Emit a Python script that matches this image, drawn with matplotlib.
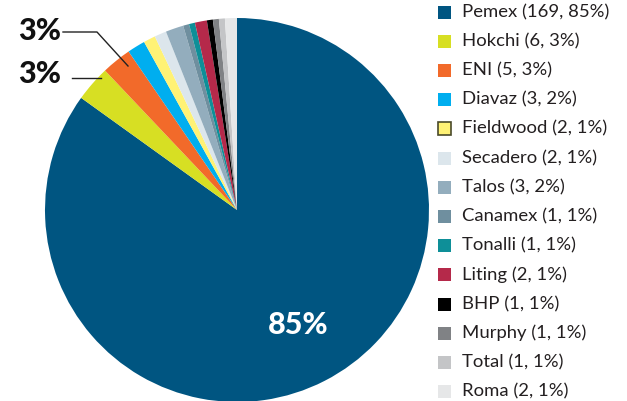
import matplotlib
matplotlib.use("Agg")
import matplotlib.pyplot as plt
from matplotlib.patches import Rectangle

companies = ["Pemex", "Hokchi", "ENI", "Diavaz", "Fieldwood", "Secadero", "Talos",
             "Canamex", "Tonalli", "Liting", "BHP", "Murphy", "Total", "Roma"]
counts = [169, 6, 5, 3, 2, 2, 3, 1, 1, 2, 1, 1, 1, 2]
shares = [85, 3, 3, 2, 1, 1, 2, 1, 1, 1, 1, 1, 1, 1]
colors = ["#005581", "#d7df23", "#f26a2a", "#00aeef", "#fff275", "#dce6ec", "#93adbd",
          "#6f8f9f", "#0e8f98", "#b5294a", "#000000", "#808285", "#c4c5c7", "#e6e7e8"]

plt.rcParams['font.family'] = ['Lato', 'DejaVu Sans']

W, H = 627, 401
fig = plt.figure(figsize=(W / 100, H / 100), dpi=100)
ax = fig.add_axes([0, 0, 1, 1])

cx, cy, r = 237, H - 210, 192
wedges, _ = ax.pie(counts, colors=colors, startangle=90, counterclock=False,
                   center=(cx, cy), radius=r, frame=True,
                   wedgeprops=dict(linewidth=0))
ax.set_xlim(0, W)
ax.set_ylim(0, H)
ax.set_aspect("equal")
ax.axis("off")

# labels
ax.text(298, H - 325, f"{shares[0]}%", color="white", fontsize=22, fontweight="black",
        ha="center", va="center")
ax.text(40, H - 31, f"{shares[2]}%", color="#111111", fontsize=22, fontweight="black",
        ha="center", va="center")
ax.text(40, H - 74, f"{shares[1]}%", color="#111111", fontsize=22, fontweight="black",
        ha="center", va="center")
ax.plot([63, 97, 128], [H - 32, H - 32, H - 66], color="#222222", lw=1)
ax.plot([72, 101], [H - 78, H - 78], color="#222222", lw=1)

# legend
y0 = H - 12
step = 29.2
for i, (n, c, s, col) in enumerate(zip(companies, counts, shares, colors)):
    y = y0 - i * step
    fw = n == "Fieldwood"
    ax.add_patch(Rectangle((438, y - 6.5), 13, 13, facecolor=col,
                           edgecolor="#4a4a2a" if fw else col, lw=1.2 if fw else 0))
    ax.text(462, y, f"{n} ({c}, {s}%)", fontsize=13.3, color="#231f20",
            va="center", ha="left")

fig.savefig("out.png", dpi=100)
